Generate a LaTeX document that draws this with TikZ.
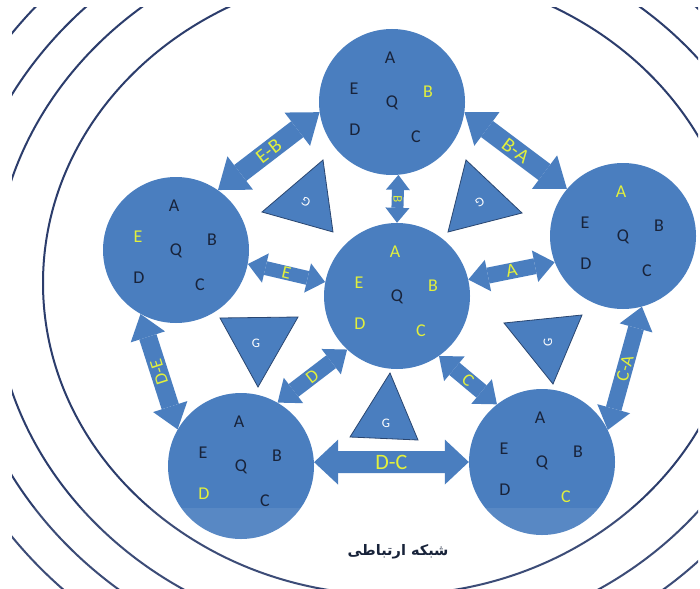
\documentclass[tikz,border=0pt]{standalone}
\usepackage{fontspec}
\setmainfont{Carlito}
\newfontfamily\arabicfont[Script=Arabic]{DejaVu Sans}
\TeXXeTstate=1
\usetikzlibrary{arrows.meta,calc}
\definecolor{nodeblue}{HTML}{4A7EBF}
\definecolor{txtdark}{HTML}{18233A}
\definecolor{txtyel}{HTML}{E2F03C}
\definecolor{arcblue}{HTML}{2C3D6C}
\definecolor{tribord}{HTML}{2A4670}
\newcommand\cletters[6]{%
  \node[ltr,text=#2] (#1-a) at ($(#1)+(-2,-44)$) {A};
  \node[ltr,text=#3] (#1-e) at ($(#1)+(-38,-13)$) {E};
  \node[ltr,text=txtdark] (#1-q) at ($(#1)+(0,1)$) {Q};
  \node[ltr,text=#4] (#1-b) at ($(#1)+(36,-10)$) {B};
  \node[ltr,text=#5] (#1-d) at ($(#1)+(-37,28)$) {D};
  \node[ltr,text=#6] (#1-c) at ($(#1)+(24,35)$) {C};}
\begin{document}
\begin{tikzpicture}[x=1pt,y=-1pt,
  bignode/.style={circle, fill=nodeblue, minimum size=146pt, inner sep=0pt},
  ltr/.style={font=\fontsize{18}{18}\selectfont, inner sep=0pt},
  arcline/.style={draw=arcblue, line width=2pt},
  tri/.style={fill=nodeblue, draw=tribord, line width=0.8pt, line join=miter},
  glabel/.style={text=white, font=\fontsize{13}{13}\selectfont, inner sep=0pt},
  lab/.style={text=txtyel, font=\fontsize{#1}{#1}\selectfont, inner sep=0pt, midway, sloped},
  pair/.style n args={3}{draw=nodeblue, line width=#1pt,
    arrows={{Triangle[length=#3pt,width=#2pt,line width=0pt]}-{Triangle[length=#3pt,width=#2pt,line width=0pt]}}}
]
\useasboundingbox (0,0) rectangle (700,588);
\fill[white] (0,0) rectangle (700,588);
% background arcs
\begin{scope}
  \clip (12,8) rectangle (698,588);
  \draw[arcline] (391,283) ellipse[x radius=348, y radius=312];
  \draw[arcline] (391,285) ellipse[x radius=397, y radius=357];
  \draw[arcline] (391,285) ellipse[x radius=434, y radius=391];
  \draw[arcline] (391,285) ellipse[x radius=471, y radius=424];
\end{scope}
% circles
\node[bignode] (T) at (392,102) {};
\node[bignode] (L) at (176,250) {};
\node[bignode] (C) at (397,296) {};
\node[bignode] (R) at (623,236) {};
\node[bignode] (BL) at (241,466) {};
\node[bignode] (BR) at (542,462) {};
% triangles
\draw[tri] (323,160) -- (262,212) -- (333,232) -- cycle;
\draw[tri] (466,160) -- (448,232) -- (522,213) -- cycle;
\draw[tri] (220,318) -- (298,317) -- (258,387) -- cycle;
\draw[tri] (504,323) -- (582,315) -- (553,384) -- cycle;
\draw[tri] (390,373) -- (350,437) -- (418,440) -- cycle;
\node[glabel, rotate=150] (g1) at (306,202) {G};
\node[glabel, rotate=-150] (g2) at (480,202) {G};
\node[glabel] (g3) at (256,343) {G};
\node[glabel, rotate=90] (g4) at (548,342) {G};
\node[glabel] (g5) at (386,423) {G};
% connectors
\draw[pair={20}{42}{28}] (L.55) -- (T.188) node[lab=20] (lEB) {E-B};
\draw[pair={20}{42}{28}] (T.-8) -- (R.140) node[lab=20] (lBA) {B-A};
\draw[pair={12}{24}{15}] (T.275) -- (C.90) node[lab=13, allow upside down] (lB) {B};
\draw[pair={14}{30}{18}] (L.-11) -- (C.169) node[lab=18] (lE) {E};
\draw[pair={16}{32}{20}] (C.13) -- (R.201) node[lab=19] (lA) {A};
\draw[pair={18}{36}{24}] (BL.150) -- (L.241) node[lab=18, allow upside down] (lDE) {D-E};
\draw[pair={16}{34}{22}] (BR.26) -- (R.285) node[lab=18] (lCA) {C-A};
\draw[pair={16}{32}{20}] (BL.60) -- (C.227) node[lab=18] (lD) {D};
\draw[pair={16}{32}{20}] (C.305) -- (BR.128) node[lab=18] (lC) {C};
\draw[pair={22}{45}{24}] (BL.3) -- (BR.180) node[lab=22] (lDC) {D-C};
% letters
\cletters{T}{txtdark}{txtdark}{txtyel}{txtdark}{txtdark}
\cletters{L}{txtdark}{txtyel}{txtdark}{txtdark}{txtdark}
\cletters{C}{txtyel}{txtyel}{txtyel}{txtyel}{txtyel}
\cletters{R}{txtyel}{txtdark}{txtdark}{txtdark}{txtdark}
\cletters{BL}{txtdark}{txtdark}{txtdark}{txtyel}{txtdark}
\cletters{BR}{txtdark}{txtdark}{txtdark}{txtdark}{txtyel}
% light band at the bottom
\fill[white, opacity=0.08] (0,508) rectangle (700,588);
\node[text=txtdark, font=\fontsize{14.5}{14.5}\selectfont\arabicfont\bfseries] (title) at (398,552) {\beginR شبکه ارتباطی\endR};
\end{tikzpicture}
\end{document}
